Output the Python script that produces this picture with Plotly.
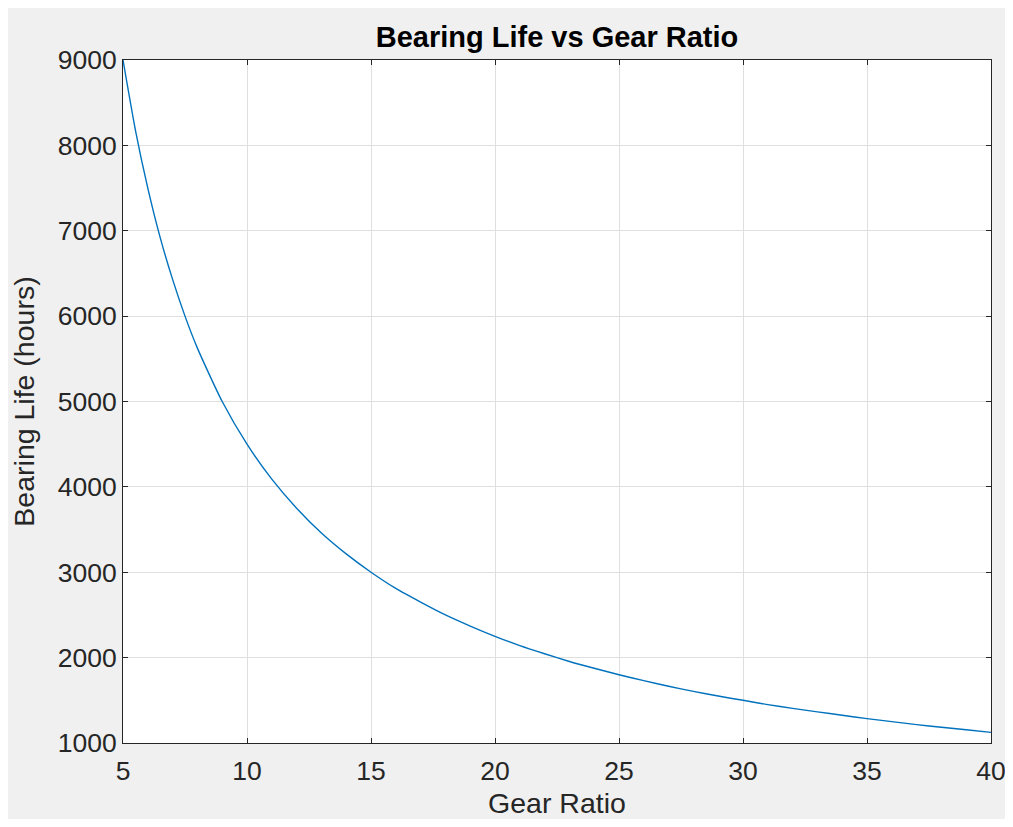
import plotly.graph_objects as go

gear_ratio = [5, 5.5, 6, 6.5, 7, 7.5, 8, 9, 10, 11, 12, 13, 14, 15, 16, 17, 18, 19, 20,
              21, 22, 23, 24, 25, 26, 27, 28, 29, 30, 31, 32, 33, 34, 35, 36, 37, 38, 39, 40]
bearing_life = [9000, 8180, 7500, 6920, 6430, 6000, 5625, 5000, 4500, 4090, 3750, 3460, 3215, 3000,
                2810, 2650, 2500, 2370, 2250, 2140, 2045, 1955, 1875, 1800, 1730, 1665, 1605,
                1550, 1500, 1450, 1405, 1365, 1325, 1285, 1250, 1215, 1185, 1155, 1125]
x_ticks = [5, 10, 15, 20, 25, 30, 35, 40]
y_ticks = [1000, 2000, 3000, 4000, 5000, 6000, 7000, 8000, 9000]

# figure sits at page offset (8, 8) because of the default body margin
OFF = 8
W, H = 998, 811
L, T = 123 - OFF, 60 - OFF
R = W - (991 - OFF)
B = H - (743 - OFF)
pw, ph = W - L - R, H - T - B

FONT = "Liberation Sans, Arial, Helvetica"

fig = go.Figure()
fig.add_trace(go.Scatter(x=gear_ratio, y=bearing_life, mode="lines",
                         line=dict(color="#0072BD", width=1.4, shape="spline", smoothing=0.6),
                         hoverinfo="x+y", showlegend=False))

axis_common = dict(showline=True, linecolor="#262626", linewidth=1, mirror="ticks",
                   ticks="inside", ticklen=5, tickcolor="#262626", tickwidth=1,
                   showgrid=True, gridcolor="#dfdfdf", gridwidth=1, zeroline=False,
                   ticklabeloverflow="allow",
                   tickfont=dict(family=FONT, size=26.5, color="#262626"))

fig.update_xaxes(range=[5, 40], tickvals=x_ticks, ticktext=[str(v) for v in x_ticks],
                 ticklabelstandoff=4,
                 title=dict(text="Gear Ratio", standoff=16,
                            font=dict(family=FONT, size=28.5, color="#262626")),
                 **axis_common)
fig.update_yaxes(range=[1000, 9000], tickvals=y_ticks, ticktext=[str(v) for v in y_ticks],
                 title=dict(text="Bearing Life (hours)", standoff=14,
                            font=dict(family=FONT, size=28.5, color="#262626")),
                 **axis_common)

fig.update_layout(
    width=W, height=H,
    margin=dict(l=L, r=R, t=T, b=B, autoexpand=False),
    paper_bgcolor="#f0f0f0", plot_bgcolor="white",
    title=dict(text="<b>Bearing Life vs Gear Ratio</b>", x=(L + pw / 2) / W, xanchor="center",
               y=1 - (37 - OFF) / H, yanchor="middle",
               font=dict(family=FONT, size=29, color="black")),
)

fig.write_html("out.html")
